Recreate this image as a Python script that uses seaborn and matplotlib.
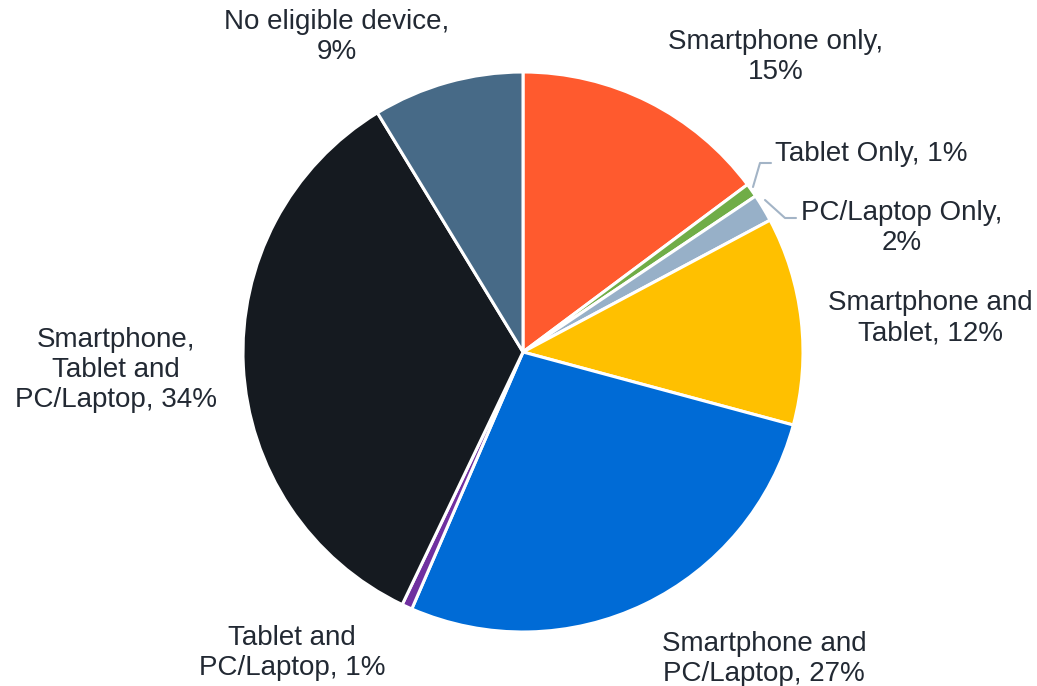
import matplotlib
matplotlib.use("Agg")
import matplotlib.pyplot as plt
import seaborn as sns

# device ownership shares, clockwise from 12 o'clock
categories = ["Smartphone only", "Tablet Only", "PC/Laptop Only", "Smartphone and Tablet",
              "Smartphone and PC/Laptop", "Tablet and PC/Laptop",
              "Smartphone, Tablet and PC/Laptop", "No eligible device"]
shares = [14.8, 0.8, 1.6, 12.0, 27.3, 0.6, 34.2, 8.7]
labels = ["Smartphone only,\n15%", "Tablet Only, 1%", "PC/Laptop Only,\n2%",
          "Smartphone and\nTablet, 12%", "Smartphone and\nPC/Laptop, 27%",
          "Tablet and\nPC/Laptop, 1%", "Smartphone,\nTablet and\nPC/Laptop, 34%",
          "No eligible device,\n9%"]
colors = ["#FF5A2E", "#70AD47", "#97B0C8", "#FFC000", "#006BD6", "#7030A0", "#151A20", "#476A87"]

sns.set_theme(style="white")
plt.rcParams['font.family'] = ['Liberation Sans', 'DejaVu Sans']
palette = sns.color_palette(colors)

W, H = 1037, 686
fig = plt.figure(figsize=(W / 100, H / 100), dpi=100)
ax = fig.add_axes([0, 0, 1, 1])

cx, cy, r = 523, H - 352, 280
ax.pie(shares, colors=palette, startangle=90, counterclock=False,
       center=(cx, cy), radius=r, frame=True,
       wedgeprops=dict(edgecolor="white", linewidth=2.2))
ax.set_xlim(0, W)
ax.set_ylim(0, H)
ax.set_aspect("equal")
ax.axis("off")

txt = "#222933"
fs = 20
# label anchors (pixel coords from top-left): x, y, ha
pos = [(776, 57, "center"), (775, 154, "left"), (902, 228, "center"),
       (930, 318, "center"), (764, 659, "center"), (292, 653, "center"),
       (116, 370, "center"), (337, 37, "center")]
for lab, (x, y, ha) in zip(labels, pos):
    ax.text(x, H - y, lab, ha=ha, va="center", fontsize=fs, color=txt,
            multialignment=ha, linespacing=1.2)

# leader lines for the thin slices
lc = "#A3B4C6"
ax.plot([753, 760, 771], [H - 187, H - 163, H - 163], color=lc, lw=1.5)
ax.plot([765, 785, 796], [H - 200, H - 218, H - 218], color=lc, lw=1.5)

fig.savefig("out.png", dpi=100, facecolor="white")
